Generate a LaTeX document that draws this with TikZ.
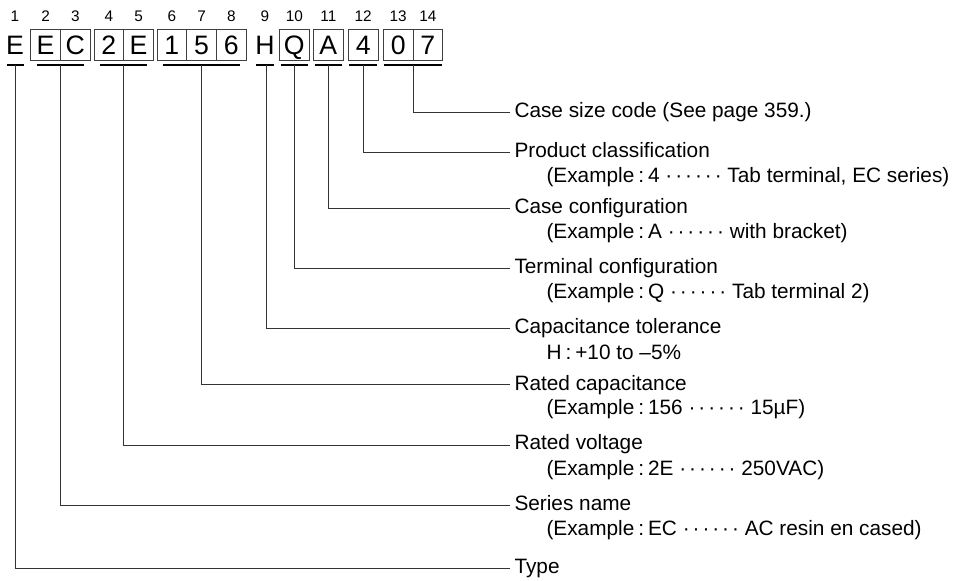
\documentclass[tikz,border=0pt]{standalone}
\usepackage{fontspec}
\setmainfont{Liberation Sans}
\usetikzlibrary{positioning,calc}

\tikzset{every picture/.style={line width=0.75pt}}
\tikzset{
  cell/.style={draw=black!75, line width=0.75pt, minimum width=22.3pt, minimum height=23.2pt,
    inner sep=0pt, outer sep=0pt, font=\fontsize{20}{20}\selectfont, text height=14.3pt, text depth=0pt},
  bare/.style={cell, draw=none},
  idx/.style={inner sep=0pt, font=\fontsize{11.5}{11.5}\selectfont},
  uline/.style={line width=1.5pt},
  leader/.style={draw=black!80, line width=0.75pt},
  head/.style={anchor=base west, inner sep=0pt, font=\fontsize{15.6}{18}\selectfont},
}
\newcommand{\exdots}{·\kern2.2pt·\kern2.2pt·\kern2.2pt·\kern2.2pt·\kern2.2pt·}
\newcommand{\excolon}{\kern3pt:\kern3pt}

\begin{document}
\begin{tikzpicture}[x=0.75pt,y=0.75pt,yscale=-1,xscale=1]
\useasboundingbox (0,0) rectangle (958,581);

% Code characters
\node[bare] (c1) at (15,44.7) {E};
\node[cell, anchor=west] (c2) at (30.7,44.7) {E};
\node[cell, right=0pt of c2] (c3) {C};
\node[cell, anchor=west] (c4) at (94,44.7) {2};
\node[cell, right=0pt of c4] (c5) {E};
\node[cell, anchor=west] (c6) at (157,44.7) {1};
\node[cell, right=0pt of c6] (c7) {5};
\node[cell, right=0pt of c7] (c8) {6};
\node[bare] (c9) at (265,44.7) {H};
\node[cell, anchor=west] (c10) at (279.5,44.7) {Q};
\node[cell, anchor=west] (c11) at (313.5,44.7) {A};
\node[cell, anchor=west] (c12) at (348.3,44.7) {4};
\node[cell, anchor=west] (c13) at (383.3,44.7) {0};
\node[cell, right=0pt of c13] (c14) {7};

% Position numbers
\node[idx] (n1) at ($(c1.north)+(0,-13.2)$) {1};
\node[idx] (n2) at ($(c2.north)+(0,-13.2)$) {2};
\node[idx] (n3) at ($(c3.north)+(0,-13.2)$) {3};
\node[idx] (n4) at ($(c4.north)+(0,-13.2)$) {4};
\node[idx] (n5) at ($(c5.north)+(0,-13.2)$) {5};
\node[idx] (n6) at ($(c6.north)+(0,-13.2)$) {6};
\node[idx] (n7) at ($(c7.north)+(0,-13.2)$) {7};
\node[idx] (n8) at ($(c8.north)+(0,-13.2)$) {8};
\node[idx] (n9) at ($(c9.north)+(0,-13.2)$) {9};
\node[idx] (n10) at ($(c10.north)+(0,-13.2)$) {10};
\node[idx] (n11) at ($(c11.north)+(0,-13.2)$) {11};
\node[idx] (n12) at ($(c12.north)+(0,-13.2)$) {12};
\node[idx] (n13) at ($(c13.north)+(0,-13.2)$) {13};
\node[idx] (n14) at ($(c14.north)+(0,-13.2)$) {14};

% Underlines
\draw[uline] ($(c1.south)+(-8.5,5)$) -- ($(c1.south)+(8.5,5)$);
\draw[uline] ($(c2.south west)+(6,5)$) -- ($(c3.south east)+(-6,5)$);
\draw[uline] ($(c4.south west)+(6,5)$) -- ($(c5.south east)+(-6,5)$);
\draw[uline] ($(c6.south west)+(6,5)$) -- ($(c8.south east)+(-6,5)$);
\draw[uline] ($(c9.south)+(-9,5)$) -- ($(c9.south)+(9,5)$);
\draw[uline] ($(c10.south west)+(1,5)$) -- ($(c10.south east)+(-1,5)$);
\draw[uline] ($(c11.south west)+(1,5)$) -- ($(c11.south east)+(-1,5)$);
\draw[uline] ($(c12.south west)+(1,5)$) -- ($(c12.south east)+(-1,5)$);
\draw[uline] ($(c13.south west)+(1,5)$) -- ($(c14.south east)+(-1,5)$);

% Leader start points
\coordinate (u1) at ($(c1.south)+(0.5,5)$);
\coordinate (u23) at ($(c2.south east)+(0,5)$);
\coordinate (u45) at ($(c4.south east)+(0,5)$);
\coordinate (u678) at ($(c7.south)+(0,5)$);
\coordinate (u9) at ($(c9.south)+(1,5)$);
\coordinate (u10) at ($(c10.south)+(0,5)$);
\coordinate (u11) at ($(c11.south)+(0,5)$);
\coordinate (u12) at ($(c12.south)+(0,5)$);
\coordinate (u1314) at ($(c13.south east)+(0,5)$);

% Leader end points
\coordinate (eSize) at (509.5,113);
\coordinate (eProd) at (509.5,153);
\coordinate (eCase) at (509.5,209);
\coordinate (eTerm) at (509.5,269);
\coordinate (eTol) at (509.5,329);
\coordinate (eCap) at (509.5,385);
\coordinate (eVolt) at (509.5,445);
\coordinate (eSeries) at (509.5,505);
\coordinate (eType) at (509.5,568);

% Leaders
\draw[leader] (u1314) |- (eSize);
\draw[leader] (u12) |- (eProd);
\draw[leader] (u11) |- (eCase);
\draw[leader] (u10) |- (eTerm);
\draw[leader] (u9) |- (eTol);
\draw[leader] (u678) |- (eCap);
\draw[leader] (u45) |- (eVolt);
\draw[leader] (u23) |- (eSeries);
\draw[leader] (u1) |- (eType);

% Text Node
\node[head] (tSize) at (514,118) {Case size code (See page 359.)};
% Text Node
\node[head] (tProd) at (514,158) {Product classification};
\node[head] (tProdEx) at ($(tProd.base west)+(32,25)$) {(Example\excolon 4 \exdots{} Tab terminal, EC series)};
% Text Node
\node[head] (tCase) at (514,214) {Case configuration};
\node[head] (tCaseEx) at ($(tCase.base west)+(32,25)$) {(Example\excolon A \exdots{} with bracket)};
% Text Node
\node[head] (tTerm) at (514,274) {Terminal configuration};
\node[head] (tTermEx) at ($(tTerm.base west)+(32,25)$) {(Example\excolon Q \exdots{} Tab terminal 2)};
% Text Node
\node[head] (tTol) at (514,334) {Capacitance tolerance};
\node[head] (tTolEx) at ($(tTol.base west)+(32,25)$) {H\excolon +10 to –5\%};
% Text Node
\node[head] (tCap) at (514,390) {Rated capacitance};
\node[head] (tCapEx) at ($(tCap.base west)+(32,25)$) {(Example\excolon 156 \exdots{} 15µF)};
% Text Node
\node[head] (tVolt) at (514,450) {Rated voltage};
\node[head] (tVoltEx) at ($(tVolt.base west)+(32,25)$) {(Example\excolon 2E \exdots{} 250VAC)};
% Text Node
\node[head] (tSeries) at (514,510) {Series name};
\node[head] (tSeriesEx) at ($(tSeries.base west)+(32,25)$) {(Example\excolon EC \exdots{} AC resin en cased)};
% Text Node
\node[head] (tType) at (514,573) {Type};

\end{tikzpicture}
\end{document}
